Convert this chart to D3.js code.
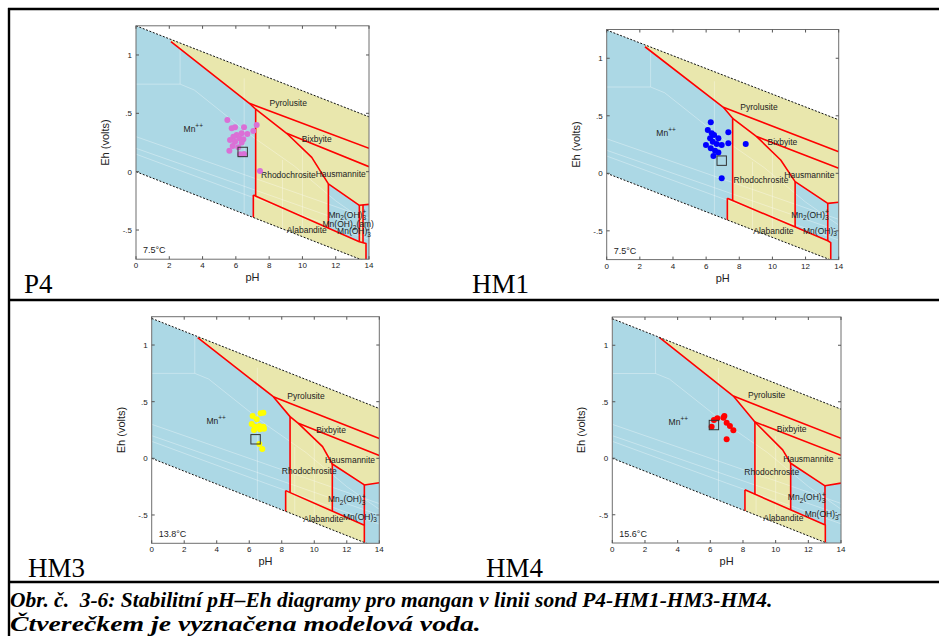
<!DOCTYPE html>
<html><head><meta charset="utf-8">
<script src="https://cdn.jsdelivr.net/npm/d3@7"></script>
<style>body{margin:0;background:#fff}svg{display:block}</style>
</head><body>
<svg id="c" width="939" height="636"></svg>
<script>
// ---------- axis data ----------
const xTicks = [0, 2, 4, 6, 8, 10, 12, 14];
const yTicks = [-0.5, 0, 0.5, 1];
const yTickLabels = ["-.5", "0", ".5", "1"];
const panelNames = ["P4", "HM1", "HM3", "HM4"];
const panelTemps = ["7.5°C", "7.5°C", "13.8°C", "15.6°C"];
const dotColors = ["#da70d6", "#0000ff", "#ffff00", "#ff0000"];

// water stability lines: [upper intercept, slope]
const p4_water = [1.25, 0.0557];
const hm1_water = [1.245, 0.0557];
const hm3_water = [1.235, 0.0568];
const hm4_water = [1.235, 0.0572];

// boundary nodes A..G (pH, Eh)
const p4_nodes = [[2.10,1.114],[6.81,0.586],[7.19,0.535],[9.05,0.329],[10.56,0.123],[11.56,-0.105],[13.42,-0.288]];
const hm1_nodes = [[2.31,1.10],[7.04,0.574],[7.60,0.478],[9.05,0.319],[10.50,0.116],[11.37,-0.072],[13.34,-0.261]];
const hm3_nodes = [[2.83,1.065],[7.48,0.544],[8.51,0.368],[9.02,0.309],[10.51,0.103],[11.11,-0.05],[13.08,-0.235]];
const hm4_nodes = [[2.86,1.071],[7.41,0.55],[8.73,0.321],[8.73,0.321],[10.43,0.074],[10.92,-0.044],[13.02,-0.244]];
// Eh at pH 14 of Pyrolusite/Bixbyite, Bixbyite/Hausmannite, Hausmannite/Mn(OH)3- lines
const p4_edge14 = [0.20, 0.043, -0.28];
const hm1_edge14 = [0.188, 0.043, -0.252];
const hm3_edge14 = [0.176, 0.024, -0.215];
const hm4_edge14 = [0.176, 0.026, -0.22];
// Alabandite upper boundary
const p4_alab = [[7.05,-0.2],[13.42,-0.6],[13.82,-0.615]];
const hm1_alab = [[7.28,-0.217],[13.34,-0.586],[13.52,-0.603]];
const hm3_alab = [[8.24,-0.285],[13.08,-0.59]];
const hm4_alab = [[8.12,-0.279],[13.04,-0.591]];
// Mn(OH)2(am) strip right pH (P4 only)
const p4_am = [13.64];

// field labels [key, pH, Eh]
const p4_labels = [["Mn++",3.44,0.363],["Pyrolusite",9.15,0.586],["Bixbyite",10.86,0.277],["Rhodochrosite",9.16,-0.028],["Hausmannite",12.3,-0.02],["Mn2(OH)3+",12.7,-0.371],["Mn(OH)2(am)",12.75,-0.45],["Mn(OH)3-",13.1,-0.51],["Alabandite",10.26,-0.5]];
const hm1_labels = [["Mn++",3.58,0.354],["Pyrolusite",9.19,0.58],["Bixbyite",10.6,0.275],["Rhodochrosite",9.31,-0.058],["Hausmannite",12.23,-0.014],["Mn2(OH)3+",12.27,-0.362],["Alabandite",10.06,-0.5],["Mn(OH)3-",12.87,-0.5]];
const hm3_labels = [["Mn++",3.96,0.332],["Pyrolusite",9.49,0.55],["Bixbyite",11.03,0.25],["Rhodochrosite",9.69,-0.109],["Hausmannite",12.2,-0.015],["Mn2(OH)3+",12.0,-0.362],["Alabandite",10.56,-0.535],["Mn(OH)3-",12.81,-0.515]];
const hm4_labels = [["Mn++",4.04,0.32],["Pyrolusite",9.45,0.556],["Bixbyite",10.98,0.262],["Rhodochrosite",9.76,-0.121],["Hausmannite",12.0,-0.009],["Mn2(OH)3+",11.9,-0.347],["Alabandite",10.47,-0.529],["Mn(OH)3-",12.82,-0.494]];

// sample points
const p4_pH = [5.49,5.75,5.95,6.49,7.25,7.05,6.69,6.35,6.05,5.85,5.65,6.21,6.45,5.95,6.35,5.81,5.61,6.15,6.49,6.25,7.45];
const p4_Eh = [0.443,0.372,0.380,0.380,0.400,0.349,0.323,0.329,0.315,0.300,0.272,0.286,0.277,0.257,0.249,0.220,0.180,0.209,0.152,0.149,0.006];
const hm1_pH = [6.28,6.10,6.34,6.48,6.74,7.34,6.24,5.99,6.40,6.64,6.94,7.34,6.28,6.54,6.74,6.44,8.39,6.94];
const hm1_Eh = [0.443,0.377,0.348,0.333,0.304,0.357,0.304,0.246,0.275,0.255,0.246,0.261,0.217,0.197,0.180,0.151,0.255,-0.043];
const hm3_pH = [6.21,6.46,6.87,6.70,6.15,6.35,6.62,6.87,6.29,6.66,6.91,6.62,6.80];
const hm3_Eh = [0.374,0.344,0.403,0.397,0.303,0.279,0.285,0.279,0.250,0.256,0.262,0.126,0.082];
const hm4_pH = [6.22,6.43,6.80,6.86,7.00,7.20,7.41,7.00,6.08];
const hm4_Eh = [0.338,0.353,0.359,0.374,0.315,0.285,0.247,0.168,0.279];
// model water [pH, Eh]
const p4_model = [6.41, 0.169];
const hm1_model = [6.94, 0.110];
const hm3_model = [6.39, 0.168];
const hm4_model = [6.22, 0.294];

// faint background lines of other species
const ghostLines = [
  [[2.65,1.4],[2.65,0.75],[0,0.75]],
  [[2.65,0.75],[3.5,0.70],[7.0,0.30],[9.5,0.05],[12,-0.25],[14,-0.45]],
  [[0,0.30],[7,-0.05],[14,-0.4]],
  [[0,0.20],[7,-0.15],[14,-0.5]],
  [[0,0.15],[7,-0.22],[14,-0.58]],
  [[6.5,0.8],[6.5,-0.7]],[[8.8,0.1],[8.8,-0.7]],[[10,0.2],[10,-0.7]]
];

const captionLines = ["Obr. č.\u00a0\u00a03-6: Stabilitní pH–Eh diagramy pro mangan v linii sond P4-HM1-HM3-HM4.",
                      "Čtverečkem je vyznačena modelová voda."];

// ---------- layout ----------
const layout = [
  {L:136, R:369, T:25.8, B:259.2, nx:24, ny:293},
  {L:606.7, R:838.7, T:29.5, B:259.6, nx:472, ny:293},
  {L:151.7, R:379.3, T:316.7, B:543.3, nx:28, ny:577},
  {L:612.3, R:841, T:317, B:543, nx:486, ny:577}
];
const plotData = [
  {water:p4_water, nodes:p4_nodes, edge:p4_edge14, alab:p4_alab, am:p4_am, labels:p4_labels, pH:p4_pH, Eh:p4_Eh, model:p4_model},
  {water:hm1_water, nodes:hm1_nodes, edge:hm1_edge14, alab:hm1_alab, am:null, labels:hm1_labels, pH:hm1_pH, Eh:hm1_Eh, model:hm1_model},
  {water:hm3_water, nodes:hm3_nodes, edge:hm3_edge14, alab:hm3_alab, am:null, labels:hm3_labels, pH:hm3_pH, Eh:hm3_Eh, model:hm3_model},
  {water:hm4_water, nodes:hm4_nodes, edge:hm4_edge14, alab:hm4_alab, am:null, labels:hm4_labels, pH:hm4_pH, Eh:hm4_Eh, model:hm4_model}
];

const svg = d3.select("#c");
const BLUE = "#acd8e5", YELLOW = "#e9e7ad", RED = "#ff0000";
const SANS = "'Liberation Sans', Arial, Helvetica, sans-serif";
const SERIF = "'Liberation Serif', 'Times New Roman', serif";

function interpAlab(alab, p){
  for (let i=0;i<alab.length-1;i++){
    const a=alab[i], b=alab[i+1];
    if (p<=b[0] || i===alab.length-2){
      const t=(p-a[0])/(b[0]-a[0]); return a[1]+t*(b[1]-a[1]);
    }
  }
}
function interpLine(pts, p){
  for (let i=0;i<pts.length-1;i++){
    const a=pts[i], b=pts[i+1];
    if (p>=a[0] && p<=b[0]){ const t=(p-a[0])/(b[0]-a[0]); return a[1]+t*(b[1]-a[1]); }
  }
  return pts[pts.length-1][1];
}

function richLabel(g, key, px, py){
  const t = g.append("text").attr("x",px).attr("y",py).attr("text-anchor","middle")
    .attr("font-family",SANS).attr("font-size",8.5).attr("fill","#222");
  const sub = (s)=>t.append("tspan").attr("dy",2.5).attr("font-size",6.5).text(s);
  const norm = (s,dy)=>t.append("tspan").attr("dy",dy||0).text(s);
  if (key==="Mn++"){ norm("Mn"); t.append("tspan").attr("dy",-4).attr("font-size",6.5).text("++"); }
  else if (key==="Mn2(OH)3+"){ norm("Mn"); sub("2"); norm("(OH)",-2.5); sub("3");
    t.append("tspan").attr("dx",-3.6).attr("dy",-6).attr("font-size",6.5).text("+"); }
  else if (key==="Mn(OH)3-"){ norm("Mn(OH)"); sub("3");
    t.append("tspan").attr("dx",-3.6).attr("dy",-6).attr("font-size",6.5).text("-"); }
  else if (key==="Mn(OH)2(am)"){ norm("Mn(OH)"); sub("2"); norm("(am)",-2.5); }
  else t.text(key);
}

layout.forEach((lo, i) => {
  const d = plotData[i];
  const x = d3.scaleLinear().domain([0,14]).range([lo.L, lo.R]);
  const y = d3.scaleLinear().domain([-0.75,1.25]).range([lo.B, lo.T]);
  const line = d3.line().x(p=>x(p[0])).y(p=>y(p[1]));
  const up = p => d.water[0] - d.water[1]*p;
  const low = p => -d.water[1]*p;
  const band = [[0,up(0)],[14,up(14)],[14,low(14)],[0,low(0)]];

  const defs = svg.append("defs");
  defs.append("clipPath").attr("id","rect"+i).append("rect")
    .attr("x",lo.L).attr("y",lo.T).attr("width",lo.R-lo.L).attr("height",lo.B-lo.T);
  defs.append("clipPath").attr("id","band"+i).append("path").attr("d", line(band)+"Z");

  const outer = svg.append("g").attr("clip-path",`url(#rect${i})`);
  const g = outer.append("g").attr("clip-path",`url(#band${i})`);

  g.append("path").attr("d", line(band)+"Z").attr("fill",BLUE);

  const [A,B,C,D,E,F,G] = d.nodes;
  const [pyR,bxR,hsR] = d.edge;
  const al = d.alab, alL = al[0], alR = al[al.length-1];
  const aAt = p => interpAlab(al,p);
  const hausLine = [D,E,F,G,[14,hsR]];

  const polys = [
    [A,B,[14,pyR],[14,2],[A[0],2]],
    [B,C,D,[14,bxR],[14,pyR]],
    [D,E,F,G,[14,hsR],[14,bxR]],
    [C,D,E,F,[F[0],aAt(F[0])],[C[0],aAt(C[0])]],
    [...al,[alR[0],-2],[alL[0],-2]]
  ];
  if (d.am){ const p=d.am[0]; polys.push([G,[p,interpLine(hausLine,p)],[p,aAt(p)],[G[0],aAt(G[0])]]); }
  polys.forEach(pg => g.append("path").attr("d", line(pg)+"Z").attr("fill",YELLOW));

  ghostLines.forEach(gl => g.append("path").attr("d",line(gl)).attr("fill","none")
    .attr("stroke","#fff").attr("stroke-opacity",0.55).attr("stroke-width",0.6));

  const reds = [
    [A,B,C,[C[0],aAt(C[0])]],
    [B,[14,pyR]],
    [C,D,[14,bxR]],
    hausLine,
    [F,[F[0],aAt(F[0])]],
    [G,[G[0],aAt(G[0])]],
    [...al,[alR[0],-2]],
    [alL,[alL[0],-2]]
  ];
  if (d.am){ const p=d.am[0]; reds.push([[p,interpLine(hausLine,p)],[p,aAt(p)]]); }
  reds.forEach(r => g.append("path").attr("d",line(r)).attr("fill","none")
    .attr("stroke",RED).attr("stroke-width",1.6).attr("stroke-linejoin","round"));

  // water lines
  [[[0,up(0)],[14,up(14)]],[[0,low(0)],[14,low(14)]]].forEach(wl =>
    outer.append("path").attr("d",line(wl)).attr("fill","none").attr("stroke","#111")
      .attr("stroke-width",1).attr("stroke-dasharray","2,1.6"));

  // frame & ticks
  svg.append("rect").attr("x",lo.L).attr("y",lo.T).attr("width",lo.R-lo.L).attr("height",lo.B-lo.T)
    .attr("fill","none").attr("stroke","#6e6e6e").attr("stroke-width",1);
  const ax = svg.append("g").attr("stroke","#555").attr("stroke-width",1);
  xTicks.forEach(t => {
    ax.append("line").attr("x1",x(t)).attr("x2",x(t)).attr("y1",lo.B).attr("y2",lo.B-3);
    ax.append("line").attr("x1",x(t)).attr("x2",x(t)).attr("y1",lo.T).attr("y2",lo.T+3);
  });
  yTicks.forEach(t => {
    ax.append("line").attr("x1",lo.L).attr("x2",lo.L+3).attr("y1",y(t)).attr("y2",y(t));
    ax.append("line").attr("x1",lo.R).attr("x2",lo.R-3).attr("y1",y(t)).attr("y2",y(t));
  });
  const tl = svg.append("g").attr("font-family",SANS).attr("font-size",8).attr("fill","#222");
  xTicks.forEach(t => tl.append("text").attr("x",x(t)).attr("y",lo.B+9).attr("text-anchor","middle").text(t));
  yTicks.forEach((t,k) => tl.append("text").attr("x",lo.L-4).attr("y",y(t)+3).attr("text-anchor","end").text(yTickLabels[k]));

  svg.append("text").attr("x",(lo.L+lo.R)/2).attr("y",lo.B+22).attr("text-anchor","middle")
    .attr("font-family",SANS).attr("font-size",11).attr("fill","#222").text("pH");
  svg.append("text").attr("transform",`translate(${lo.L-27},${(lo.T+lo.B)/2}) rotate(-90)`)
    .attr("text-anchor","middle").attr("font-family",SANS).attr("font-size",11).attr("fill","#222").text("Eh (volts)");

  // field labels
  const lg = svg.append("g");
  d.labels.forEach(l => richLabel(lg, l[0], x(l[1]), y(l[2])+3));

  svg.append("text").attr("x",lo.L+7).attr("y",lo.B-6).attr("font-family",SANS)
    .attr("font-size",9).attr("fill","#222").text(panelTemps[i]);

  // samples
  svg.append("g").selectAll("circle").data(d.pH.map((p,k)=>[p,d.Eh[k]])).join("circle")
    .attr("cx",p=>x(p[0])).attr("cy",p=>y(p[1])).attr("r",3).attr("fill",dotColors[i]);
  svg.append("rect").attr("x",x(d.model[0])-4.7).attr("y",y(d.model[1])-4.7).attr("width",9.4).attr("height",9.4)
    .attr("fill","none").attr("stroke","#333").attr("stroke-width",1);

  svg.append("text").attr("x",lo.nx).attr("y",lo.ny).attr("font-family",SERIF).attr("font-size",27)
    .attr("fill","#000").text(panelNames[i]);
});

// table lines
const tbl = svg.append("g").attr("stroke","#000").attr("stroke-width",2.4);
tbl.append("line").attr("x1",9).attr("x2",9).attr("y1",8).attr("y2",636);
[9,300,582].forEach(yy => tbl.append("line").attr("x1",8).attr("x2",939).attr("y1",yy).attr("y2",yy));

// caption (condensed bold italic serif, each line fitted to its width)
const cap = svg.append("g").attr("font-family",SERIF).attr("font-weight","bold").attr("font-style","italic")
  .attr("font-size",22).attr("fill","#000");
[[captionLines[0],607,763],[captionLines[1],631,471]].forEach(([txt,yy,w]) => {
  const t = cap.append("text").attr("x",0).attr("y",0).text(txt);
  const nat = t.node().getComputedTextLength();
  t.attr("transform",`translate(10,${yy}) scale(${w/nat},1)`);
});
</script>
</body></html>
